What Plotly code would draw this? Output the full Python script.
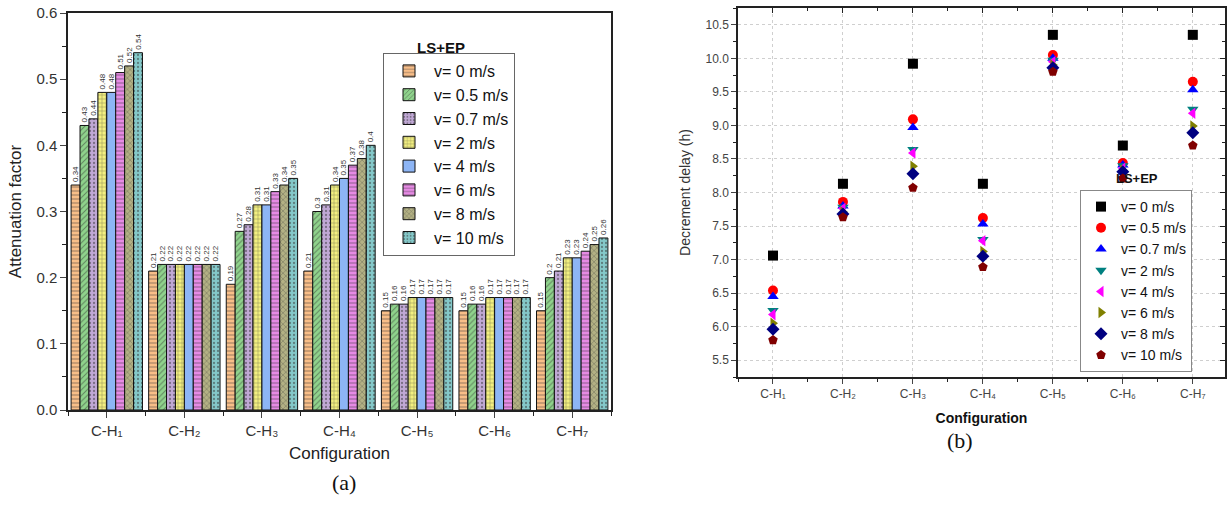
import plotly.graph_objects as go

# ---------------- data ----------------
configs = ["C-H1", "C-H2", "C-H3", "C-H4", "C-H5", "C-H6", "C-H7"]
config_ticks = ["C-H\u2081", "C-H\u2082", "C-H\u2083", "C-H\u2084",
                "C-H\u2085", "C-H\u2086", "C-H\u2087"]
speeds = ["v= 0 m/s", "v= 0.5 m/s", "v= 0.7 m/s", "v= 2 m/s",
          "v= 4 m/s", "v= 6 m/s", "v= 8 m/s", "v= 10 m/s"]

# (a) attenuation factor, one list per wind speed (values across C-H1..C-H7)
att_v0 = [0.34, 0.21, 0.19, 0.21, 0.15, 0.15, 0.15]
att_v05 = [0.43, 0.22, 0.27, 0.30, 0.16, 0.16, 0.20]
att_v07 = [0.44, 0.22, 0.28, 0.31, 0.16, 0.16, 0.21]
att_v2 = [0.48, 0.22, 0.31, 0.34, 0.17, 0.17, 0.23]
att_v4 = [0.48, 0.22, 0.31, 0.35, 0.17, 0.17, 0.23]
att_v6 = [0.51, 0.22, 0.33, 0.37, 0.17, 0.17, 0.24]
att_v8 = [0.52, 0.22, 0.34, 0.38, 0.17, 0.17, 0.25]
att_v10 = [0.54, 0.22, 0.35, 0.40, 0.17, 0.17, 0.26]
att_series = [att_v0, att_v05, att_v07, att_v2, att_v4, att_v6, att_v8, att_v10]

# (b) decrement delay (h)
dd_v0 = [7.06, 8.13, 9.92, 8.13, 10.35, 8.70, 10.35]
dd_v05 = [6.54, 7.86, 9.09, 7.62, 10.05, 8.44, 9.65]
dd_v07 = [6.45, 7.80, 8.97, 7.53, 10.00, 8.41, 9.53]
dd_v2 = [6.24, 7.78, 8.64, 7.30, 9.97, 8.40, 9.24]
dd_v4 = [6.18, 7.76, 8.59, 7.28, 9.95, 8.36, 9.18]
dd_v6 = [6.05, 7.71, 8.39, 7.12, 9.90, 8.33, 8.99]
dd_v8 = [5.96, 7.68, 8.28, 7.05, 9.86, 8.31, 8.89]
dd_v10 = [5.80, 7.63, 8.07, 6.89, 9.80, 8.21, 8.70]
dd_series = [dd_v0, dd_v05, dd_v07, dd_v2, dd_v4, dd_v6, dd_v8, dd_v10]

# ---------------- styles ----------------
bar_colors = ["#F8BE88", "#8FD38C", "#C0A8D5", "#F2EF80", "#8DB5F5", "#E68AE4", "#B3B184", "#84C8C9"]
bar_patterns = ["-", "/", ".", "+", "", "-", "x", "."]
marker_colors = ["#000000", "#FF0000", "#0000FF", "#008080", "#FF00FF", "#808000", "#000080", "#800000"]
marker_symbols = ["square", "circle", "triangle-up", "triangle-down",
                  "triangle-left", "triangle-right", "diamond", "pentagon"]

FONT = "Arial, Liberation Sans, DejaVu Sans, sans-serif"
pos = list(range(len(configs)))

fig = go.Figure()

for name, vals, col, pat in zip(speeds, att_series, bar_colors, bar_patterns):
    fig.add_trace(go.Bar(
        x=pos, y=vals, name=name, xaxis="x", yaxis="y", legend="legend",
        marker=dict(color=col, line=dict(color="#111", width=1),
                    pattern=dict(shape=pat, fgcolor="#333", bgcolor=col, size=4, solidity=0.25)),
        text=[str(v) for v in vals], textposition="outside", textangle=-90,
        textfont=dict(size=8, color="#333", family=FONT),
        constraintext="none", cliponaxis=False,
    ))

for name, vals, col, sym in zip(speeds, dd_series, marker_colors, marker_symbols):
    fig.add_trace(go.Scatter(
        x=pos, y=vals, name=name, mode="markers", xaxis="x2", yaxis="y2", legend="legend2",
        marker=dict(color=col, symbol=sym, size=10, line=dict(width=0)),
    ))

# invisible helper trace so the mirrored (inside-tick) axes of panel (b) are drawn
fig.add_trace(go.Scatter(x=[pos[0]], y=[dd_v0[0]], xaxis="x3", yaxis="y3", mode="markers",
                         marker=dict(opacity=0), showlegend=False, hoverinfo="skip"))

W, H = 1227, 514

def px_x(p):
    return p / W

def px_y(p):
    return 1 - p / H

XD2 = [px_x(738), px_x(1225)]
YD2 = [px_y(377), px_y(8)]
XR2 = [-0.5, 6.46]
YR2 = [5.25, 10.75]

fig.update_layout(
    width=W, height=H, margin=dict(l=0, r=0, t=0, b=0, autoexpand=False),
    paper_bgcolor="white", plot_bgcolor="white",
    font=dict(family=FONT, color="#222"),
    barmode="group", bargap=0.08, bargroupgap=0.0,
    xaxis=dict(domain=[px_x(68), px_x(611)], anchor="y", range=[-0.5, 6.5], automargin=False,
               tickmode="array", tickvals=pos, ticktext=config_ticks,
               tickfont=dict(size=15, color="#333"), ticks="outside", ticklen=6,
               minor=dict(tickmode="linear", tick0=0.5, dtick=1, ticks="outside", ticklen=4, tickcolor="#222"),
               showline=True, linecolor="#222", linewidth=1.5, mirror=True,
               showgrid=False, zeroline=False,
               title=dict(text="Configuration", font=dict(size=17, color="#222"), standoff=9)),
    yaxis=dict(domain=[px_y(410), px_y(13)], anchor="x", range=[0, 0.6], dtick=0.1, automargin=False,
               tickformat=".1f", tickfont=dict(size=15, color="#333"), ticks="outside", ticklen=6,
               minor=dict(dtick=0.05, ticks="outside", ticklen=4, tickcolor="#222"),
               showline=True, linecolor="#222", linewidth=1.5, mirror=True,
               showgrid=False, zeroline=False,
               title=dict(text="Attenuation factor", font=dict(size=17, color="#222"), standoff=10)),
    xaxis2=dict(domain=XD2, anchor="y2", range=XR2, automargin=False,
                tickmode="array", tickvals=pos, ticktext=config_ticks,
                tickfont=dict(size=12, color="#444"), ticks="outside", ticklen=5,
                minor=dict(tickmode="linear", tick0=0.5, dtick=1, ticks="outside", ticklen=3, tickcolor="#222"),
                showline=True, linecolor="#222", linewidth=1.5, mirror=True,
                showgrid=True, gridcolor="#cfcfcf", griddash="dot", gridwidth=1, zeroline=False,
                title=dict(text="<b>Configuration</b>", font=dict(size=14, color="#111"), standoff=13)),
    yaxis2=dict(domain=YD2, anchor="x2", range=YR2, dtick=0.5, automargin=False,
                tickformat=".1f", tickfont=dict(size=12, color="#444"), ticks="outside", ticklen=5,
                minor=dict(dtick=0.25, ticks="outside", ticklen=3, tickcolor="#222"),
                showline=True, linecolor="#222", linewidth=1.5, mirror=True,
                showgrid=True, gridcolor="#cfcfcf", griddash="dot", gridwidth=1, zeroline=False,
                title=dict(text="Decrement delay (h)", font=dict(size=14, color="#333"), standoff=12)),
    xaxis3=dict(domain=XD2, anchor="y3", range=XR2, overlaying="x2", side="top", automargin=False,
                tickmode="array", tickvals=pos, showticklabels=False, ticks="inside", ticklen=5,
                tickcolor="#222",
                minor=dict(tickmode="linear", tick0=0.5, dtick=1, ticks="inside", ticklen=3, tickcolor="#222"),
                showline=False, showgrid=False, zeroline=False),
    yaxis3=dict(domain=YD2, anchor="x3", range=YR2, overlaying="y2", side="right", automargin=False,
                dtick=0.5, showticklabels=False, ticks="inside", ticklen=5, tickcolor="#222",
                minor=dict(dtick=0.25, ticks="inside", ticklen=3, tickcolor="#222"),
                showline=False, showgrid=False, zeroline=False),
    legend=dict(x=px_x(383), y=px_y(53), xanchor="left", yanchor="top",
                font=dict(size=16, color="#111"), bordercolor="#666", borderwidth=1,
                bgcolor="white", itemwidth=40, tracegroupgap=0, traceorder="normal"),
    legend2=dict(x=px_x(1080), y=px_y(190), xanchor="left", yanchor="top",
                 font=dict(size=14, color="#111"), bordercolor="#888", borderwidth=1,
                 bgcolor="white", itemwidth=30, tracegroupgap=0, traceorder="normal"),
    annotations=[
        dict(text="<b>LS+EP</b>", x=px_x(441), y=px_y(37), xref="paper", yref="paper",
             showarrow=False, font=dict(size=15, color="#111")),
        dict(text="<b>LS+EP</b>", x=px_x(1160), y=px_y(178), xref="paper", yref="paper",
             showarrow=False, font=dict(size=13, color="#111")),
        dict(text="(a)", x=px_x(330), y=px_y(497), xref="paper", yref="paper",
             showarrow=False, font=dict(size=22, color="#111", family="Liberation Serif, Times New Roman, serif")),
        dict(text="(b)", x=px_x(975), y=px_y(455), xref="paper", yref="paper",
             showarrow=False, font=dict(size=22, color="#111", family="Liberation Serif, Times New Roman, serif")),
    ],
)

fig.write_html("out.html")
